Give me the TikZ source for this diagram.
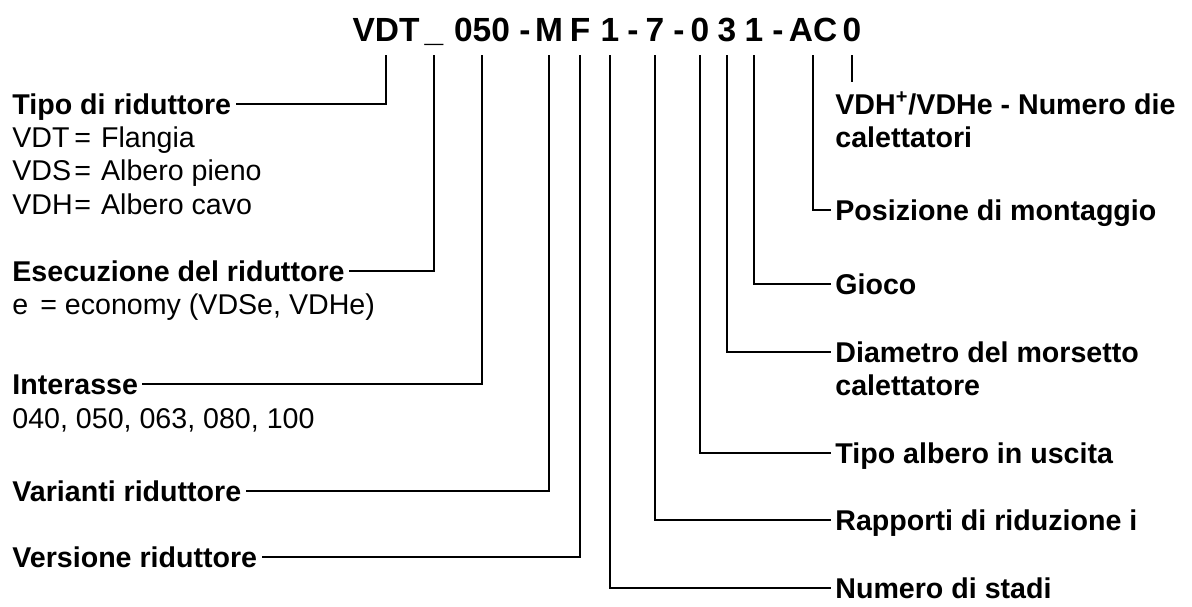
\documentclass[tikz,border=0pt]{standalone}
\usepackage{fontspec}
\setmainfont{Liberation Sans}
\usetikzlibrary{positioning}
\tikzset{
  every node/.style={inner sep=0pt}
}

\begin{document}
\begin{tikzpicture}[
    x=0.5pt, y=-0.5pt,
    code/.style={font=\fontsize{16.75}{20}\selectfont\bfseries, anchor=base, inner ysep=7pt, text depth=0pt},
    lbl/.style={font=\fontsize{14.3}{17}\selectfont\bfseries, anchor=west, text height=10pt, text depth=0pt, inner xsep=2pt},
    desc/.style={font=\fontsize{14.3}{17}\selectfont, anchor=west, text height=10pt, text depth=0pt},
    link/.style={draw=black, line width=1pt}
]
\useasboundingbox (0,0) rectangle (1192,606);

    % type code
    \foreach \name/\xx/\txt in {vdt/386/VDT, us/434/\_, size/482/050, da/525/-, var/549/M, ver/580/F,
        st/610/1, db/633/-, rat/655/7, dc/679/-, sh/700/0, cl/727/3, bl/754/1, dd/778/-, ac/813/AC, nr/852/0}
        \node[code] (\name) at (\xx,41) {\txt};

    % left column
    \node[lbl] (tipo) at (8,104) {Tipo di riduttore};
    \node[desc] (tipoa) at (12,137) {\makebox[31pt][l]{VDT}=\hspace{5pt}Flangia};
    \node[desc, below=6.5pt of tipoa.south west, anchor=north west] (tipob) {\makebox[31pt][l]{VDS}=\hspace{5pt}Albero pieno};
    \node[desc, below=6.5pt of tipob.south west, anchor=north west] (tipoc) {\makebox[31pt][l]{VDH}=\hspace{5pt}Albero cavo};

    \node[lbl] (esec) at (8,271) {Esecuzione del riduttore};
    \node[desc] (esecb) at (12,304) {e\hspace{6pt}= economy (VDSe, VDHe)};

    \node[lbl] (inter) at (8,384) {Interasse\hspace{4pt}};
    \node[desc] (interb) at (12,418) {040, 050, 063, 080, 100};

    \node[lbl] (vari) at (8,491) {Varianti riduttore};
    \node[lbl] (vers) at (8,557) {Versione riduttore\hspace{2pt}};

    % right column
    \node[lbl, inner ysep=6pt] (vdh) at (831,104) {VDH\textsuperscript{+}/VDHe - Numero die};
    \node[lbl, below=0.5pt of vdh.south west, anchor=north west] (vdhb) {calettatori};
    \node[lbl] (pos) at (831,210) {Posizione di montaggio};
    \node[lbl] (gioco) at (831,284) {Gioco};
    \node[lbl] (diam) at (831,352) {Diametro del morsetto};
    \node[lbl, below=6.5pt of diam.south west, anchor=north west] (diamb) {calettatore};
    \node[lbl] (alb) at (831,453) {Tipo albero in uscita};
    \node[lbl] (rapp) at (831,520) {Rapporti di riduzione i};
    \node[lbl] (stadi) at (831,588) {Numero di stadi};

    % connectors
    \draw[link] (vdt.south) |- (tipo.east);
    \draw[link] (us.south) |- (esec.east);
    \draw[link] (size.south) |- (inter.east);
    \draw[link] (var.south) |- (vari.east);
    \draw[link] (ver.south) |- (vers.east);
    \draw[link] (st.south) |- (stadi.west);
    \draw[link] (rat.south) |- (rapp.west);
    \draw[link] (sh.south) |- (alb.west);
    \draw[link] (cl.south) |- (diam.west);
    \draw[link] (bl.south) |- (gioco.west);
    \draw[link] (ac.south) |- (pos.west);
    \draw[link] (nr.south) -- (nr.south |- vdh.north);

\end{tikzpicture}
\end{document}
